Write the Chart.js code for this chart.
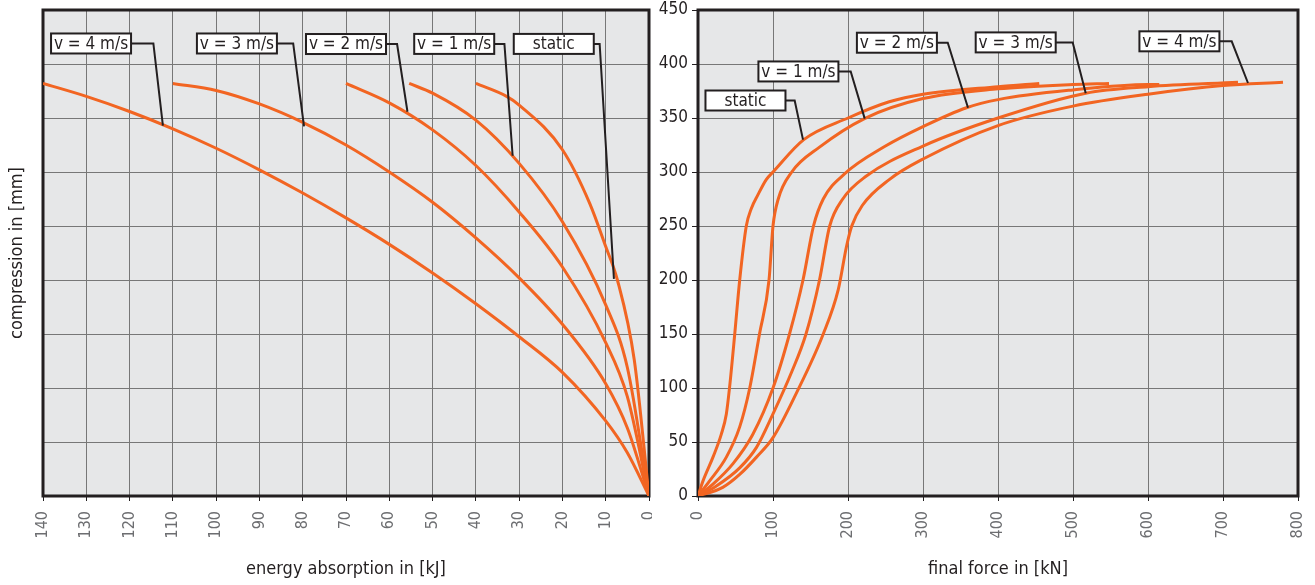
<!DOCTYPE html>
<html>
  <head>
    <title>compression curves</title>
    <script src="https://cdn.jsdelivr.net/npm/chart.js"></script>
    <style>
      body {
        margin: 0;
        background: #fff;
      }
      .box {
        position: absolute;
        top: 0;
        height: 585px;
      }
      #leftBox {
        left: 0;
        width: 652px;
      }
      #rightBox {
        left: 652px;
        width: 663px;
      }
    </style>
  </head>
  <body>
    <div class="box" id="leftBox"><canvas id="energyChart"></canvas></div>
    <div class="box" id="rightBox"><canvas id="forceChart"></canvas></div>

    <script>
      const seriesNames = ["static", "v = 1 m/s", "v = 2 m/s", "v = 3 m/s", "v = 4 m/s"];

      // energy absorption [kJ] -> compression [mm]
      const energyStatic = [40, 32.9, 30, 20, 13.7, 10, 7.3, 3.4, 0];
      const compEStatic = [382, 370, 362, 320.6, 271, 231, 200, 126, 0];
      const energyV1 = [55.4, 50, 40, 30, 20, 10, 5, 0];
      const compEV1 = [382, 373, 348, 308, 254, 177, 119, 0];
      const energyV2 = [70, 60, 50, 40, 30, 20, 10, 5, 0];
      const compEV2 = [382, 364, 339, 306, 263, 212, 142, 92, 0];
      const energyV3 = [110, 100, 90, 80, 70, 60, 50, 40, 30, 20, 10, 5, 0];
      const compEV3 = [382, 375.5, 363, 346, 325, 300, 272, 239, 202, 159, 104, 63, 0];
      const energyV4 = [140, 130, 120, 110, 100, 90, 80, 70, 60, 50, 40, 30, 20, 10, 5, 0];
      const compEV4 = [382, 370, 356, 340, 322, 302, 280.5, 257.5, 233, 206.5, 178, 147.5, 114.5, 69.5, 40, 0];

      // final force [kN] -> compression [mm]
      const forceStatic = [0, 6.7, 20, 31, 37.8, 42, 49, 55.6, 64.4, 71, 80, 91, 100, 141, 200, 255, 300, 400, 455];
      const compFStatic = [0, 14, 36, 57, 76, 100, 150, 200, 250, 266, 279, 293, 300, 330, 350, 365, 372, 379, 382];
      const forceV1 = [0, 15.5, 37.8, 55.6, 69, 82, 94.7, 100, 107, 125, 162, 222, 300, 400, 500, 548];
      const compFV1 = [0, 14, 36, 64, 100, 150, 200, 250, 275, 300, 323, 349.5, 368, 377, 381, 382];
      const forceV2 = [0, 20, 46.7, 73, 100, 122, 140, 154, 167, 195, 250, 300, 358, 400, 500, 600, 615];
      const compFV2 = [0, 11, 30, 57, 100, 150, 200, 250, 275, 298, 324, 342, 359.5, 367, 376, 381, 381];
      const forceV3 = [0, 24, 55.6, 78, 100, 125, 144, 162, 175.6, 193, 224, 300, 400, 517, 600, 720];
      const compFV3 = [0, 9, 26, 45, 76, 115, 150, 200, 250, 275, 296, 324, 350, 373, 379, 383];
      const forceV4 = [0, 33, 55.6, 78, 100, 131, 167, 187, 198, 205, 219, 255, 300, 400, 500, 600, 700, 780];
      const compFV4 = [0, 8, 20, 36, 54, 95, 150, 191, 231, 250, 269, 293, 312, 343, 361, 372, 380, 383];

      // label tags (data units): box centre, elbow x, point on the curve
      const leftTagCenter = [[22.0, 418.6], [45.0, 418.6], [70.0, 418.5], [95.2, 419], [128.9, 419]];
      const leftTagElbow = [11.4, 33.4, 58.2, 82.2, 114.5];
      const leftTagTarget = [[8.1, 201], [31.5, 315], [55.8, 355.8], [79.7, 342.2], [112.3, 342.9]];
      const rightTagCenter = [[63.3, 366.2], [133.9, 393.1], [265.2, 419.7], [423.6, 420], [641.9, 421]];
      const rightTagElbow = [128.9, 203.6, 333, 499.6, 711.6];
      const rightTagTarget = [[140, 330], [222.3, 349.4], [360, 359.5], [517, 373], [733.3, 382.4]];

      const FONT = "'Liberation Sans Narrow', 'DejaVu Sans Condensed', 'Arial Narrow', sans-serif";
      const DARK = "#231f20";
      const ORANGE = "#f26522";
      Chart.defaults.font.family = FONT;

      function pairs(xs, ys) {
        return xs.map((v, i) => ({ x: v, y: ys[i] }));
      }

      function makeSet(xs, ys, name) {
        return {
          label: name,
          data: pairs(xs, ys),
          borderColor: ORANGE,
          borderWidth: 3,
          pointRadius: 0,
          cubicInterpolationMode: "monotone",
          fill: false,
        };
      }

      // grey plot area + heavy frame
      const framePlugin = {
        id: "frame",
        beforeDraw(chart) {
          const a = chart.chartArea;
          const ctx = chart.ctx;
          ctx.save();
          ctx.fillStyle = "#e6e7e8";
          ctx.fillRect(a.left, a.top, a.right - a.left, a.bottom - a.top);
          ctx.restore();
        },
        beforeDatasetsDraw(chart) {
          const a = chart.chartArea;
          const ctx = chart.ctx;
          ctx.save();
          ctx.strokeStyle = DARK;
          ctx.lineWidth = 3;
          ctx.strokeRect(a.left, a.top, a.right - a.left, a.bottom - a.top);
          ctx.restore();
        },
      };

      function makeTagPlugin(centers, elbows, targets) {
        return {
          id: "tags",
          afterDatasetsDraw(chart) {
            const ctx = chart.ctx;
            const x = chart.scales.x;
            const y = chart.scales.y;
            ctx.save();
            seriesNames.forEach((name, i) => {
              const cx = x.getPixelForValue(centers[i][0]);
              const cy = y.getPixelForValue(centers[i][1]);
              const ex = x.getPixelForValue(elbows[i]);
              const tx = x.getPixelForValue(targets[i][0]);
              const ty = y.getPixelForValue(targets[i][1]);
              ctx.strokeStyle = DARK;
              ctx.lineWidth = 2;
              ctx.beginPath();
              ctx.moveTo(cx + 40, cy);
              ctx.lineTo(ex, cy);
              ctx.lineTo(tx, ty);
              ctx.stroke();
              ctx.fillStyle = "#fff";
              ctx.fillRect(cx - 40, cy - 10, 80, 20);
              ctx.strokeRect(cx - 40, cy - 10, 80, 20);
              ctx.fillStyle = DARK;
              ctx.font = "17px " + FONT;
              ctx.textAlign = "center";
              ctx.textBaseline = "middle";
              ctx.fillText(name, cx, cy + 1);
            });
            ctx.restore();
          },
        };
      }

      function xAxis(max, reverse, title) {
        return {
          type: "linear",
          min: 0,
          max: max,
          reverse: reverse,
          grid: { color: "#777", lineWidth: 1, drawTicks: true, tickLength: 5, tickColor: DARK },
          border: { display: false },
          ticks: {
            stepSize: max === 800 ? 100 : 10,
            autoSkip: false,
            minRotation: 90,
            maxRotation: 90,
            padding: 10,
            color: "#6d6e71",
            font: { size: 16 },
          },
          title: {
            display: true,
            text: title,
            color: DARK,
            font: { size: 18 },
            padding: { top: 0, bottom: 5 },
          },
          afterFit(scale) {
            scale.height = 89;
            scale.paddingLeft = 0;
            scale.paddingRight = 0;
          },
        };
      }

      new Chart(document.getElementById("energyChart"), {
        type: "line",
        data: {
          datasets: [
            makeSet(energyStatic, compEStatic, seriesNames[0]),
            makeSet(energyV1, compEV1, seriesNames[1]),
            makeSet(energyV2, compEV2, seriesNames[2]),
            makeSet(energyV3, compEV3, seriesNames[3]),
            makeSet(energyV4, compEV4, seriesNames[4]),
          ],
        },
        options: {
          responsive: true,
          maintainAspectRatio: false,
          animation: false,
          layout: { padding: { left: 0, right: 3, top: 10, bottom: 0 } },
          plugins: { legend: { display: false }, tooltip: { enabled: false } },
          scales: {
            x: xAxis(140, true, "energy absorption in [kJ]"),
            y: {
              type: "linear",
              min: 0,
              max: 450,
              grid: { color: "#777", lineWidth: 1, drawTicks: false },
              border: { display: false },
              ticks: { display: false, stepSize: 50 },
              title: {
                display: true,
                text: "compression in [mm]",
                color: DARK,
                font: { size: 18 },
                padding: { top: 7, bottom: 0 },
              },
              afterFit(scale) {
                scale.width = 43;
                scale.paddingTop = 0;
                scale.paddingBottom = 0;
              },
            },
          },
        },
        plugins: [framePlugin, makeTagPlugin(leftTagCenter, leftTagElbow, leftTagTarget)],
      });

      new Chart(document.getElementById("forceChart"), {
        type: "line",
        data: {
          datasets: [
            makeSet(forceStatic, compFStatic, seriesNames[0]),
            makeSet(forceV1, compFV1, seriesNames[1]),
            makeSet(forceV2, compFV2, seriesNames[2]),
            makeSet(forceV3, compFV3, seriesNames[3]),
            makeSet(forceV4, compFV4, seriesNames[4]),
          ],
        },
        options: {
          responsive: true,
          maintainAspectRatio: false,
          animation: false,
          layout: { padding: { left: 0, right: 17, top: 10, bottom: 0 } },
          plugins: { legend: { display: false }, tooltip: { enabled: false } },
          scales: {
            x: xAxis(800, false, "final force in [kN]"),
            y: {
              type: "linear",
              min: 0,
              max: 450,
              grid: { color: "#777", lineWidth: 1, drawTicks: true, tickLength: 6, tickColor: DARK },
              border: { display: false },
              ticks: { stepSize: 50, padding: 4, color: DARK, font: { size: 17 } },
              afterFit(scale) {
                scale.width = 46;
                scale.paddingTop = 0;
                scale.paddingBottom = 0;
              },
            },
          },
        },
        plugins: [framePlugin, makeTagPlugin(rightTagCenter, rightTagElbow, rightTagTarget)],
      });
    </script>
  </body>
</html>
